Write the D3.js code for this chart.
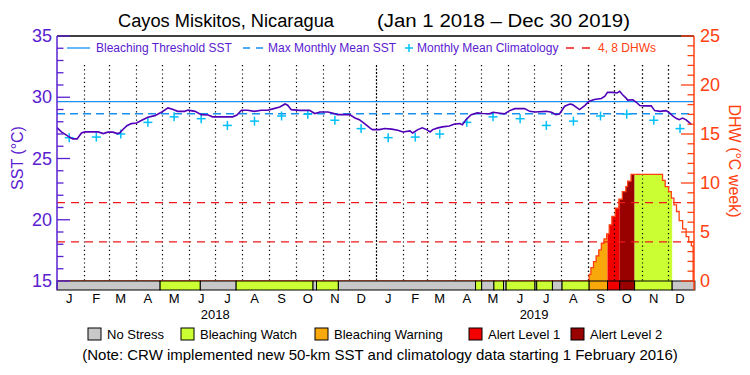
<!DOCTYPE html>
<html>
<head>
<meta charset="utf-8">
<script src="https://d3js.org/d3.v7.min.js"></script>
<style>
  body { margin: 0; background: #fff; }
  text { font-family: "Liberation Sans", Arial, sans-serif; }
</style>
</head>
<body>
<svg class="chart"></svg>
<script>
// ---- data ----
var monthLetters = ["J","F","M","A","M","J","J","A","S","O","N","D"];
var years = [2018, 2019];
var sstTicks = [15, 20, 25, 30, 35];
var dhwTicks = [0, 5, 10, 15, 20, 25];

// monthly mean climatology (same every year), plotted mid-month
var climMonthly = [26.7, 26.75, 27.0, 27.95, 28.4, 28.25, 27.7, 28.05, 28.47, 28.62, 28.12, 27.44];
var mmm = 28.65, bleachThreshold = 29.65;
var dhwLevels = [4, 8];

// daily SST, as days since Jan 1 2018
var sstDay = [0,5,13,18,23,28,32,47,53,58,64,69,72,74,80,85,91,97,104,112,120,127,133,138,146,150,158,165,173,178,201,206,211,218,226,234,241,247,255,261,264,268,278,289,295,301,310,316,321,335,341,346,352,358,361,369,375,383,390,396,404,407,413,418,423,427,430,436,441,449,455,461,464,468,474,481,487,495,499,507,512,518,524,535,541,547,560,566,571,575,581,587,590,598,604,609,615,623,627,630,636,641,644,647,651,653,659,663,667,672,680,684,690,697,701,705,709,712,716,720,724,726];
var sstVal = [27.52,27.17,26.81,26.6,26.6,27.08,27.17,27.17,27.03,27.15,27.15,27.03,27.1,27.27,27.68,27.85,27.9,28.12,28.36,28.5,28.8,29.13,29.0,28.85,28.85,28.95,28.85,28.58,28.55,28.4,28.4,28.55,28.94,28.94,28.85,28.94,28.94,29.05,29.2,29.45,29.35,28.99,28.93,28.93,28.67,28.8,28.8,28.7,28.58,28.58,28.31,28.17,27.85,27.5,27.36,27.36,27.45,27.4,27.3,27.17,27.25,27.08,27.36,27.5,27.36,27.17,27.36,27.5,27.58,27.65,27.82,27.85,27.75,28.17,28.58,28.72,28.67,28.65,28.77,28.7,28.64,28.91,29.07,29.07,28.85,28.8,28.85,28.77,28.58,28.64,29.27,29.45,29.4,28.99,29.32,29.67,29.81,29.9,30.08,30.4,30.4,30.35,30.49,30.22,29.95,29.77,29.8,29.59,29.32,29.3,29.3,28.91,28.85,28.91,28.72,28.45,28.26,28.17,28.3,28.15,27.9,27.77];

// degree heating weeks (step series)
var dhwDay = [0,609,611,614,617,620,623,626,629,632,635,639,643,647,651,653,657,693,696,700,703,706,709,712,716,720,723,726,728];
var dhwVal = [0,0.68,1.36,1.97,2.56,3.17,3.85,4.3,4.8,5.73,6.58,7.43,8.35,9.13,9.64,10.19,10.87,10.26,9.64,9.13,8.45,7.77,7.09,6.17,5.32,4.53,4.02,3.58,0];

// stress level periods: start day and level (0 none .. 4 alert 2)
var stressStart = [0,118,164,205,293,297,322,479,486,500,511,514,547,549,567,578,609,630,644,661,704];
var stressLevel = [0,1,0,1,0,1,0,1,0,1,0,1,0,1,0,1,2,3,4,1,0];
var stressEnd = 730;
var stressNames = ["No Stress","Bleaching Watch","Bleaching Warning","Alert Level 1","Alert Level 2"];

// ---- layout ----
var svgWidth = 750, svgHeight = 375,
    pLeft = 57, pRight = 694, pTop = 36, sstBottom = 281, pBottom = 290;

var purple = "#5a20d0", lineColor = "#5200b8", orange = "#ff4010",
    blue = "#1890f0", cyan = "#00bff8", red = "#f01818";
var stressColor = d3.scaleOrdinal().domain([0,1,2,3,4])
    .range(["#c8c8c8","#ccff33","#f9a80c","#f20000","#990000"]);

var t0 = new Date(2018, 0, 1);
var dayDate = d => d3.timeDay.offset(t0, d);
var xScale = d3.scaleTime().domain([t0, new Date(2019, 11, 31)]).range([pLeft, pRight]);
var xDay = d => xScale(dayDate(d));
var ySST = d3.scaleLinear().domain([15, 35]).range([sstBottom, pTop]);
var yDHW = d3.scaleLinear().domain([0, 25]).range([sstBottom, pTop]);

var svg = d3.select(".chart").attr("width", svgWidth).attr("height", svgHeight);

// title
svg.append("text").attr("x", 118).attr("y", 27).attr("font-size", 18)
    .attr("textLength", 216).attr("lengthAdjust", "spacingAndGlyphs")
    .text("Cayos Miskitos, Nicaragua");
svg.append("text").attr("x", 377).attr("y", 27).attr("font-size", 18)
    .attr("textLength", 253).attr("lengthAdjust", "spacingAndGlyphs")
    .text("(Jan 1 2018 \u2013 Dec 30 2019)");

// month separators
var monthStarts = d3.timeMonth.range(new Date(2018, 1, 1), new Date(2020, 0, 1));
var sepX = d => Math.round(xScale(d)) + 0.5;
svg.append("g").selectAll("line").data(monthStarts).enter().append("line")
    .attr("x1", sepX).attr("x2", sepX)
    .attr("y1", 65).attr("y2", sstBottom)
    .attr("stroke", "#000").attr("stroke-width", 1.2)
    .attr("stroke-dasharray", d => d.getMonth() === 0 ? "2,1.5" : "1.2,3");

// DHW area filled by stress level
var dhwData = dhwDay.map((d, i) => ({day: d, v: dhwVal[i]}));
var segs = stressStart.map((s, i) => ({start: s, end: i + 1 < stressStart.length ? stressStart[i + 1] : stressEnd, level: stressLevel[i]}));
var dhwArea = d3.area().curve(d3.curveStepAfter)
    .x(d => xDay(d.day)).y0(sstBottom).y1(d => yDHW(d.v));
var defs = svg.append("defs");
segs.filter(s => s.level > 0).forEach(function (s, i) {
    var id = "clip" + i;
    defs.append("clipPath").attr("id", id).append("rect")
        .attr("x", xDay(s.start)).attr("width", xDay(s.end) - xDay(s.start))
        .attr("y", pTop).attr("height", sstBottom - pTop);
    svg.append("path").datum(dhwData).attr("d", dhwArea)
        .attr("fill", stressColor(s.level)).attr("clip-path", "url(#" + id + ")");
});
// separators and DHW levels show through the fill in the reference
svg.append("g").selectAll("line").data(monthStarts.filter(d => d > dayDate(600))).enter().append("line")
    .attr("x1", sepX).attr("x2", sepX)
    .attr("y1", 65).attr("y2", sstBottom)
    .attr("stroke", "#000").attr("stroke-width", 1.2).attr("stroke-dasharray", "1.2,3");
svg.append("g").selectAll("line").data(dhwLevels).enter().append("line")
    .attr("x1", pLeft).attr("x2", pRight)
    .attr("y1", d => yDHW(d)).attr("y2", d => yDHW(d))
    .attr("stroke", red).attr("stroke-width", 1.2).attr("stroke-dasharray", "8,6");

svg.append("path").datum(dhwData)
    .attr("d", d3.line().curve(d3.curveStepAfter).x(d => xDay(d.day)).y(d => yDHW(d.v)))
    .attr("fill", "none").attr("stroke", orange).attr("stroke-width", 1.3);

// threshold and MMM
svg.append("line").attr("x1", pLeft).attr("x2", pRight)
    .attr("y1", ySST(bleachThreshold)).attr("y2", ySST(bleachThreshold))
    .attr("stroke", blue).attr("stroke-width", 1.3);
svg.append("line").attr("x1", pLeft).attr("x2", pRight)
    .attr("y1", ySST(mmm)).attr("y2", ySST(mmm))
    .attr("stroke", blue).attr("stroke-width", 1.5).attr("stroke-dasharray", "8,5");

// climatology crosses
var climData = [];
years.forEach(y => climMonthly.forEach((v, m) => climData.push({date: new Date(y, m, 15), v: v})));
var cross = svg.append("g").selectAll("g").data(climData).enter().append("g")
    .attr("transform", d => "translate(" + xScale(d.date) + "," + ySST(d.v) + ")");
cross.append("line").attr("x1", -4.5).attr("x2", 4.5).attr("stroke", cyan).attr("stroke-width", 1.5);
cross.append("line").attr("y1", -4.5).attr("y2", 4.5).attr("stroke", cyan).attr("stroke-width", 1.5);

// SST line
var sstData = sstDay.map((d, i) => ({day: d, v: sstVal[i]}));
svg.append("path").datum(sstData)
    .attr("d", d3.line().x(d => xDay(d.day)).y(d => ySST(d.v)))
    .attr("fill", "none").attr("stroke", lineColor).attr("stroke-width", 1.6);

// stress bar
svg.append("g").selectAll("rect").data(segs).enter().append("rect")
    .attr("x", d => xDay(d.start)).attr("width", d => xDay(d.end) - xDay(d.start))
    .attr("y", sstBottom).attr("height", pBottom - sstBottom)
    .attr("fill", d => stressColor(d.level)).attr("stroke", "#000").attr("stroke-width", 1);

// frame
svg.append("line").attr("x1", pLeft).attr("x2", pRight).attr("y1", pTop).attr("y2", pTop)
    .attr("stroke", "#000").attr("stroke-width", 1.3);
svg.append("line").attr("x1", pLeft).attr("x2", pLeft).attr("y1", pTop).attr("y2", pBottom)
    .attr("stroke", purple).attr("stroke-width", 1.5);
svg.append("line").attr("x1", pRight).attr("x2", pRight).attr("y1", pTop).attr("y2", pBottom)
    .attr("stroke", orange).attr("stroke-width", 1.5);

// left axis ticks (inward)
svg.append("g").selectAll("line").data(d3.range(15, 36)).enter().append("line")
    .attr("x1", pLeft).attr("x2", d => pLeft + (d % 5 === 0 ? 13 : 6.5))
    .attr("y1", d => ySST(d)).attr("y2", d => ySST(d))
    .attr("stroke", purple).attr("stroke-width", 1.3);
svg.append("g").selectAll("text").data(sstTicks).enter().append("text")
    .attr("x", 52).attr("y", d => ySST(d) + 6).attr("text-anchor", "end")
    .attr("font-size", 18).attr("fill", purple).text(d => d);
svg.append("text").attr("transform", "translate(23,158) rotate(-90)")
    .attr("text-anchor", "middle").attr("font-size", 16).attr("fill", purple)
    .text("SST (\u00b0C)");

// right axis ticks (inward)
svg.append("g").selectAll("line").data(d3.range(0, 26)).enter().append("line")
    .attr("x1", pRight).attr("x2", d => pRight - (d % 5 === 0 ? 13 : 6.5))
    .attr("y1", d => yDHW(d)).attr("y2", d => yDHW(d))
    .attr("stroke", orange).attr("stroke-width", 1.3);
svg.append("g").selectAll("text").data(dhwTicks).enter().append("text")
    .attr("x", 700).attr("y", d => yDHW(d) + 6)
    .attr("font-size", 18).attr("fill", orange).text(d => d);
svg.append("text").attr("transform", "translate(729,161) rotate(90)")
    .attr("text-anchor", "middle").attr("font-size", 16).attr("fill", orange)
    .text("DHW (\u00b0C week)");

// month letters and years
var mids = [];
years.forEach(y => monthLetters.forEach((m, i) => mids.push({date: new Date(y, i, 15), label: m})));
svg.append("g").selectAll("text").data(mids).enter().append("text")
    .attr("x", d => xScale(d.date)).attr("y", 303).attr("text-anchor", "middle")
    .attr("font-size", 13).text(d => d.label);
svg.append("g").selectAll("text").data(years).enter().append("text")
    .attr("x", d => xScale(new Date(d, 6, 1))).attr("y", 319).attr("text-anchor", "middle")
    .attr("font-size", 13).text(d => d);

// top legend
var lg = svg.append("g").attr("font-size", 12);
lg.append("line").attr("x1", 67).attr("x2", 90).attr("y1", 48).attr("y2", 48)
    .attr("stroke", blue).attr("stroke-width", 1.3);
lg.append("text").attr("x", 96).attr("y", 52).attr("fill", purple).text("Bleaching Threshold SST");
lg.append("line").attr("x1", 243).attr("x2", 263).attr("y1", 48).attr("y2", 48)
    .attr("stroke", blue).attr("stroke-width", 1.5).attr("stroke-dasharray", "7,6");
lg.append("text").attr("x", 268).attr("y", 52).attr("fill", purple).text("Max Monthly Mean SST");
lg.append("line").attr("x1", 405).attr("x2", 413).attr("y1", 48).attr("y2", 48).attr("stroke", cyan).attr("stroke-width", 1.5);
lg.append("line").attr("x1", 409).attr("x2", 409).attr("y1", 44).attr("y2", 52).attr("stroke", cyan).attr("stroke-width", 1.5);
lg.append("text").attr("x", 417).attr("y", 52).attr("fill", purple).text("Monthly Mean Climatology");
lg.append("line").attr("x1", 566).attr("x2", 590).attr("y1", 48).attr("y2", 48)
    .attr("stroke", red).attr("stroke-width", 1.3).attr("stroke-dasharray", "8,8");
lg.append("text").attr("x", 598).attr("y", 52).attr("fill", orange).text("4, 8 DHWs");

// stress legend
var legX = [88, 181, 315, 469, 571];
var sl = svg.append("g").selectAll("g").data(stressNames).enter().append("g")
    .attr("transform", (d, i) => "translate(" + legX[i] + ",328)");
sl.append("rect").attr("width", 13).attr("height", 12)
    .attr("fill", (d, i) => stressColor(i)).attr("stroke", "#000");
sl.append("text").attr("x", 19).attr("y", 11).attr("font-size", 13).text(d => d);

svg.append("text").attr("x", 380).attr("y", 360).attr("text-anchor", "middle").attr("font-size", 15)
    .text("(Note: CRW implemented new 50-km SST and climatology data starting 1 February 2016)");
</script>
</body>
</html>
